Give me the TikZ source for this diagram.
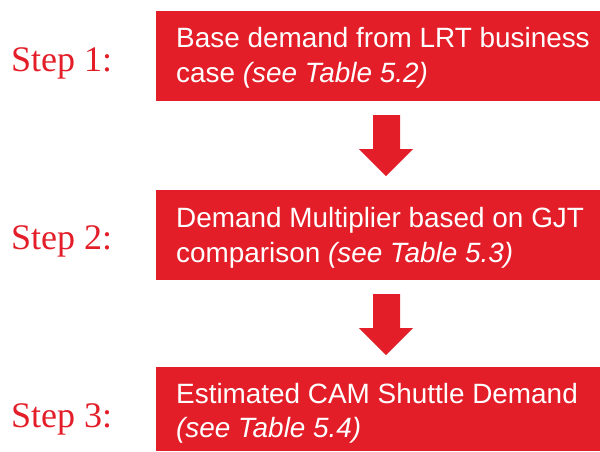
\documentclass[tikz,border=0pt]{standalone}
\usepackage{fontspec}
\setmainfont{Liberation Serif}
\newfontfamily\boxfont{Liberation Sans}
\definecolor{redmain}{RGB}{227,30,40}
\begin{document}
\begin{tikzpicture}[x=1pt,y=-1pt,
  stepbox/.style={fill=redmain,draw=none},
  steplabel/.style={anchor=base west,inner sep=0pt,text=redmain,font=\fontsize{36}{40}\selectfont},
  boxtext/.style={anchor=base west,inner sep=0pt,text=white,font=\boxfont\fontsize{27.9}{33}\selectfont},
  bigarrow/.style={fill=redmain,draw=none}]
\useasboundingbox (0,0) rectangle (600,451);
% boxes
\path[stepbox] (156,11) rectangle (600,101);
\path[stepbox] (156,190) rectangle (600,280);
\path[stepbox] (156,367) rectangle (600,451);
% step labels
\node[steplabel] (s1) at (11,71) {Step 1:};
\node[steplabel] (s2) at (11,249) {Step 2:};
\node[steplabel] (s3) at (11,427) {Step 3:};
% box texts
\node[boxtext] (t1a) at (176,47) {Base demand from LRT business};
\node[boxtext] (t1b) at (176,82) {case \textit{(see Table 5.2)}};
\node[boxtext] (t2a) at (176,227) {Demand Multiplier based on GJT};
\node[boxtext] (t2b) at (176,262) {comparison \textit{(see Table 5.3)}};
\node[boxtext] (t3a) at (176,403) {Estimated CAM Shuttle Demand};
\node[boxtext] (t3b) at (176,437) {\textit{(see Table 5.4)}};
% arrows
\path[bigarrow] (373,115) -- (400,115) -- (400,149) -- (413,149) -- (386,176) -- (359,149) -- (373,149) -- cycle;
\path[bigarrow] (373,294) -- (400,294) -- (400,328) -- (413,328) -- (386,355) -- (359,328) -- (373,328) -- cycle;
\end{tikzpicture}
\end{document}
